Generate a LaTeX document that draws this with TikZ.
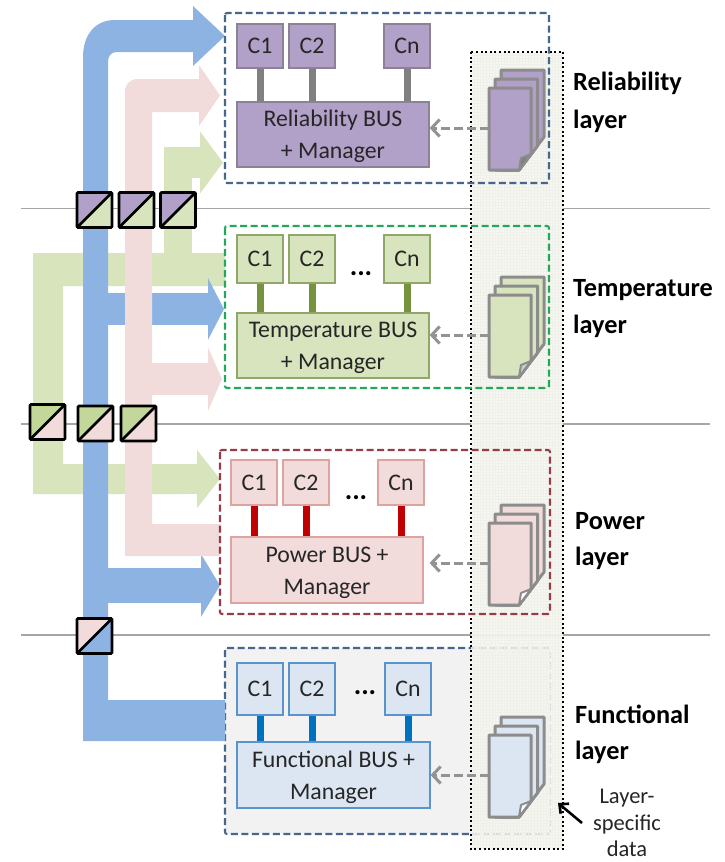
\documentclass[tikz,border=0pt]{standalone}
\usepackage{fontspec}
\setmainfont{Carlito}
\usetikzlibrary{arrows.meta}
\definecolor{bandB}{HTML}{8DB3E2}
\definecolor{bandP}{HTML}{F2DCDB}
\definecolor{bandG}{HTML}{D8E4BC}
\definecolor{purF}{HTML}{B1A0C7}
\definecolor{purD}{HTML}{8C8296}
\definecolor{grnF}{HTML}{D7E4BD}
\definecolor{grnD}{HTML}{8FA868}
\definecolor{grnK}{HTML}{C4D79B}
\definecolor{pnkF}{HTML}{F2DCDB}
\definecolor{pnkD}{HTML}{DCA3A1}
\definecolor{bluF}{HTML}{DCE6F2}
\definecolor{bluD}{HTML}{5B93CC}
\definecolor{txt}{HTML}{262626}
\definecolor{frameB}{HTML}{46668C}
\definecolor{frameG}{HTML}{22A85A}
\definecolor{frameR}{HTML}{963C46}
\definecolor{stubG}{HTML}{76923C}
\definecolor{stubR}{HTML}{C00000}
\definecolor{stubB}{HTML}{0070C0}
\definecolor{regionF}{HTML}{F6F6F0}
\definecolor{regionL}{HTML}{F0F0EA}
\newcommand{\upstrut}{\rule{0pt}{21pt}}
\tikzset{
  x=1pt,y=-1pt,
  bandb/.style={draw=bandB,line width=#1},
  bandp/.style={draw=bandP,line width=#1},
  bandg/.style={draw=bandG,line width=#1},
  head/.style 2 args={-{Triangle[length=#1pt,width=#2pt]}},
  layerbox/.style={draw=#1,line width=2.1pt,rounded corners=2pt,dash pattern=on 7pt off 3.5pt},
  cbox/.style 2 args={draw=#2,fill=#1,line width=1.2pt,inner sep=0pt,minimum width=46pt,text=txt,font=\fontsize{23.8}{26}\selectfont},
  busbox/.style 2 args={draw=#2,fill=#1,line width=1.2pt,inner sep=0pt,minimum width=192pt,minimum height=65pt,text=txt,align=center,font=\fontsize{23.8}{32}\selectfont},
  stub/.style={draw=#1,line width=7pt},
  conv/.style 2 args={draw=black,line width=2.6pt,minimum size=35pt,inner sep=0pt,rounded corners=1pt,
    path picture={
      \fill[#1] (path picture bounding box.north west) -- (path picture bounding box.north east) -- (path picture bounding box.south west) -- cycle;
      \fill[#2] (path picture bounding box.south east) -- (path picture bounding box.north east) -- (path picture bounding box.south west) -- cycle;
      \draw[black,line width=2.6pt] (path picture bounding box.south west) -- (path picture bounding box.north east);
    }},
  feed/.style={draw=gray!85,line width=3pt,dash pattern=on 9pt off 4pt,-{Straight Barb[length=8pt,width=17pt]}},
  layerlabel/.style={anchor=west,inner sep=0pt,text=black,font=\fontsize{26.3}{30}\bfseries\selectfont},
  dots/.style={inner sep=0pt,text=black,font=\fontsize{28}{30}\bfseries\selectfont},
  divider/.style={draw=gray!70,line width=#1},
  page/.style={draw=gray!90,line width=3pt,line join=round},
}
% #1 top y, #2 fill, #3 fold fill
\newcommand{\pagestack}[3]{%
  \begin{scope}[shift={(0,#1)}]
    \draw[page,fill=#2] (501,0) -- (544,0) -- (544,67) -- (519,100) -- (501,100) -- cycle;
    \draw[page,fill=#2] (495,9) -- (537.5,9) -- (537.5,76) -- (519,100) -- (495,100) -- cycle;
    \draw[page,fill=#2] (489,18) -- (531,18) -- (531,84) -- (519,100) -- (489,100) -- cycle;
    \draw[page,fill=#3,line width=2pt] (519,100) -- (521,88) -- (531,84) -- cycle;
  \end{scope}}
\begin{document}
\begin{tikzpicture}
\useasboundingbox (0,0) rectangle (724,862);
\fill[white] (0,0) rectangle (724,862);

% dividers
\coordinate (d1a) at (21,208); \coordinate (d1b) at (710,208);
\coordinate (d2a) at (21,424); \coordinate (d2b) at (710,424);
\coordinate (d3a) at (21,635); \coordinate (d3b) at (710,635);
\draw[divider=1pt] (d1a) -- (d1b);
\draw[divider=2pt] (d2a) -- (d2b);
\draw[divider=2pt] (d3a) -- (d3b);

% functional frame sits under the data region
\fill[white!95!black] (225,648) rectangle (550,834);
\draw[layerbox=frameB] (225,648) rectangle (550,834);
\coordinate (relW) at (225,98);
\coordinate (tmpW) at (225,307);
\coordinate (powW) at (220,532);
\coordinate (funW) at (225,741);

% green bands
\fill[bandG] (33,253) -- (tmpW |- 0,253) -- (tmpW |- 0,286) -- (63,286) -- (63,464) -- (180,464) -- (180,494) -- (33,494) -- cycle;
\draw[bandg=31pt,head={23}{61}] (164,162.5) -- ([xshift=-2pt]relW |- 0,162.5);
\draw[bandg=28pt] (178,286) -- (178,147);
\draw[bandg=30pt,head={23}{57}] (170,479) -- (powW |- 0,479);

% blue bands
\fill[bandB] (83,741) -- (83,57) .. controls (83,35) and (95,20) .. (115,20) -- (200,20) -- (200,52) -- (117,52) .. controls (111,52) and (108,56) .. (108,62) -- (108,700) -- (funW |- 0,700) -- (funW |- 0,741) -- cycle;
\draw[bandb=32pt,head={32}{58}] (180,36) -- (relW |- 0,36);
\draw[bandb=32pt,head={16}{61}] (100,309) -- ([xshift=-1pt]tmpW |- 0,309);
\draw[bandb=35pt,head={19}{62}] (100,585.5) -- (powW |- 0,585.5);

% pink bands
\fill[bandP] (125,556) -- (125,92) .. controls (125,84) and (130,79) .. (138,79) -- (190,79) -- (190,112) -- (152,112) -- (152,524) -- (powW |- 0,524) -- (powW |- 0,556) -- cycle;
\draw[bandp=33pt,head={21}{60}] (180,95.5) -- ([xshift=-5pt]relW |- 0,95.5);
\draw[bandp=32pt,head={14}{63}] (140,379) -- ([xshift=-3pt]tmpW |- 0,379);

% shared data region
\fill[regionF,opacity=.82] (471,52) rectangle (563,849);
\foreach \gx in {474,477,...,561} \draw[regionL,line width=.3pt] (\gx,52) -- (\gx,849);
\foreach \gy in {55,58,...,847} \draw[regionL,line width=.3pt] (471,\gy) -- (563,\gy);
\draw[black,line width=2.2pt,dash pattern=on 2pt off 2.6pt] (471,52) rectangle (563,849);

% layer frames
\draw[layerbox=frameB] (225,13) rectangle (549,183);
\draw[layerbox=frameG] (225,226) rectangle (549,388);
\draw[layerbox=frameR] (220,450) rectangle (550,614);

% Reliability layer
\node[cbox={purF}{purD},minimum height=44pt] (rc1) at (260,46) {C1};
\node[cbox={purF}{purD},minimum height=44pt] (rc2) at (312,46) {C2};
\node[cbox={purF}{purD},minimum height=44pt] (rcn) at (407,46) {Cn};
\node[busbox={purF}{purD}] (rbus) at (333,134.5) {\upstrut Reliability BUS\\+ Manager};
\draw[stub=gray] (rc1.south) -- (rc1.south |- rbus.north);
\draw[stub=gray] (rc2.south) -- (rc2.south |- rbus.north);
\draw[stub=gray] (rcn.south) -- (rcn.south |- rbus.north);

% Temperature layer
\node[cbox={grnF}{grnD},minimum height=48pt] (tc1) at (260,259) {C1};
\node[cbox={grnF}{grnD},minimum height=48pt] (tc2) at (312,259) {C2};
\node[cbox={grnF}{grnD},minimum height=48pt] (tcn) at (407,259) {Cn};
\node[dots] (tdots) at (361,274) {...};
\node[busbox={grnF}{grnD}] (tbus) at (333,345.5) {\upstrut Temperature BUS\\+ Manager};
\draw[stub=stubG] (tc1.south) -- (tc1.south |- tbus.north);
\draw[stub=stubG] (tc2.south) -- (tc2.south |- tbus.north);
\draw[stub=stubG] (tcn.south) -- (tcn.south |- tbus.north);

% Power layer
\node[cbox={pnkF}{pnkD},minimum height=45pt] (pc1) at (254,482.5) {C1};
\node[cbox={pnkF}{pnkD},minimum height=45pt] (pc2) at (306,482.5) {C2};
\node[cbox={pnkF}{pnkD},minimum height=45pt] (pcn) at (401,482.5) {Cn};
\node[dots] (pdots) at (356,498) {...};
\node[busbox={pnkF}{pnkD},minimum height=66pt] (pbus) at (327,570) {\upstrut Power BUS +\\Manager};
\draw[stub=stubR] (pc1.south) -- (pc1.south |- pbus.north);
\draw[stub=stubR] (pc2.south) -- (pc2.south |- pbus.north);
\draw[stub=stubR] (pcn.south) -- (pcn.south |- pbus.north);

% Functional layer
\node[cbox={bluF}{bluD},minimum height=52pt] (fc1) at (260,689) {C1};
\node[cbox={bluF}{bluD},minimum height=52pt] (fc2) at (312,689) {C2};
\node[cbox={bluF}{bluD},minimum height=52pt] (fcn) at (408,689) {Cn};
\node[dots] (fdots) at (365,693) {...};
\node[busbox={bluF}{bluD},minimum width=193pt,minimum height=66pt] (fbus) at (333.5,775) {\upstrut Functional BUS +\\Manager};
\draw[stub=stubB] (fc1.south) -- (fc1.south |- fbus.north);
\draw[stub=stubB] (fc2.south) -- (fc2.south |- fbus.north);
\draw[stub=stubB] (fcn.south) -- (fcn.south |- fbus.north);

% page stacks and feeds
\pagestack{70}{purF}{gray}
\pagestack{277}{grnF}{gray!40}
\pagestack{505}{pnkF}{white}
\pagestack{717}{bluF}{white}
\coordinate (rdoc) at (489,128);
\coordinate (tdoc) at (489,335);
\coordinate (pdoc) at (489,563);
\coordinate (fdoc) at (489,775);
\draw[feed] (rdoc) -- (rbus.east |- rdoc);
\draw[feed] (tdoc) -- (tbus.east |- tdoc);
\draw[feed] (pdoc) -- ([xshift=6pt]pbus.east |- pdoc);
\draw[feed] (fdoc) -- (fbus.east |- fdoc);

% converters
\node[conv={purF}{grnF}] (k1) at (94.5,210) {};
\node[conv={purF}{grnF}] (k2) at (136.5,210) {};
\node[conv={purF}{grnF}] (k3) at (178,210) {};
\node[conv={grnK}{pnkF}] (k4) at (47.5,422) {};
\node[conv={grnK}{pnkF}] (k5) at (95.5,423.5) {};
\node[conv={grnK}{pnkF}] (k6) at (138.5,423.5) {};
\node[conv={pnkF}{bandB}] (k7) at (94.5,636) {};

% labels
\node[layerlabel] (l1a) at (573,83) {Reliability};
\node[layerlabel] (l1b) at (573,121) {layer};
\node[layerlabel] (l2a) at (573,290) {Temperature};
\node[layerlabel] (l2b) at (573,326) {layer};
\node[layerlabel] (l3a) at (575,521) {Power};
\node[layerlabel] (l3b) at (575,558) {layer};
\node[layerlabel] (l4a) at (575,714) {Functional};
\node[layerlabel] (l4b) at (575,752) {layer};
\node[align=center,inner sep=0pt,text=txt,font=\fontsize{22.5}{26.5}\selectfont] (ld) at (627,823) {Layer-\\specific\\data};
\coordinate (ptrS) at (582,823);
\coordinate (ptrE) at (558,803);
\draw[black,line width=2.6pt,-{Straight Barb[length=7pt,width=13pt]}] (ptrS) -- (ptrE);
\end{tikzpicture}
\end{document}
